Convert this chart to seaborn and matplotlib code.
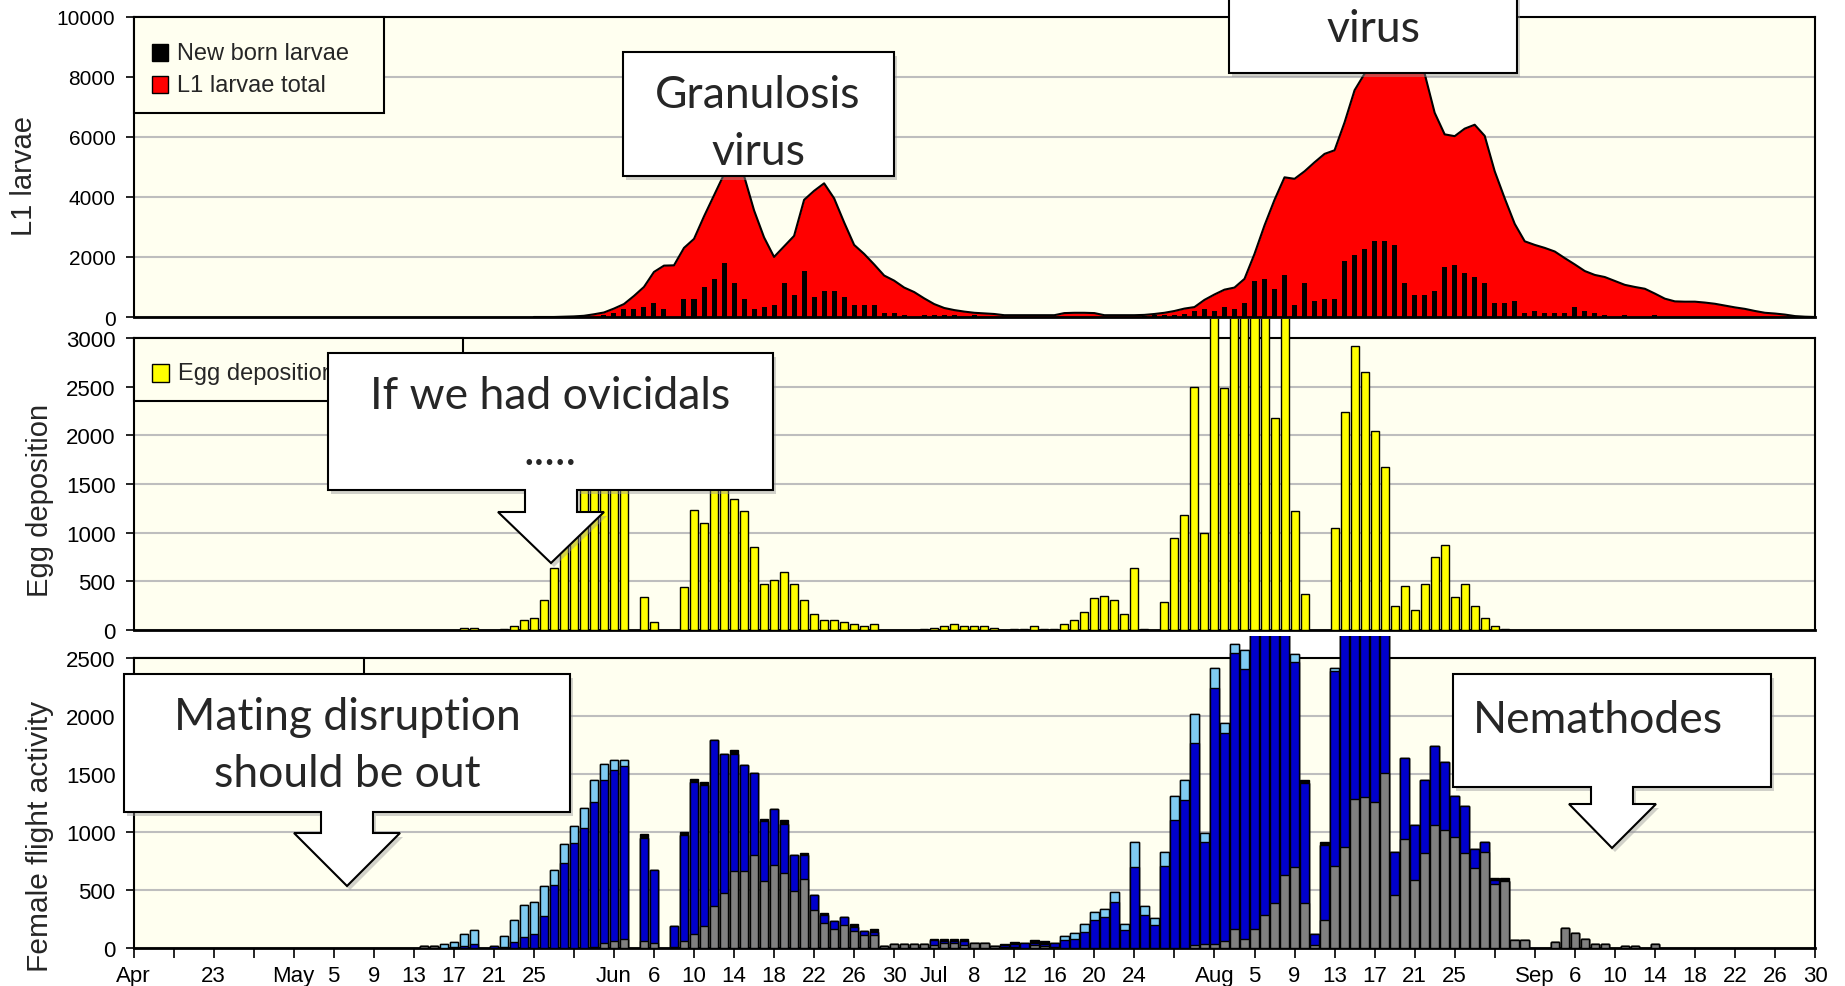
"""
Codling moth season 2009: L1 larvae, egg deposition and female flight
=====================================================================
Three stacked panels sharing a daily axis from 15 April (day 0) to 30 September (day 168).
"""

import numpy as np
import pandas as pd
import matplotlib
matplotlib.use('Agg')
import matplotlib.pyplot as plt
import seaborn as sns
from matplotlib import font_manager
from matplotlib.patches import Polygon, Rectangle
from matplotlib.transforms import Bbox, TransformedBbox

# -- Axis labels (day 0 = 15 April, ticks every 4 days) --
TICK_DAYS = list(range(0, 169, 4))
TICK_LABELS = ['Apr', '', '23', '', 'May', '5', '9', '13', '17', '21', '25', '',
               'Jun', '6', '10', '14', '18', '22', '26', '30', 'Jul', '8', '12', '16',
               '20', '24', '', 'Aug', '5', '9', '13', '17', '21', '25', '', 'Sep',
               '6', '10', '14', '18', '22', '26', '30']

# -- L1 larvae total (area), from day 40 --
LARVAE_FIRST = 40
LARVAE_TOTAL = [0, 0, 0, 10, 20, 40, 90, 150, 280, 430,
                700, 1000, 1500, 1710, 1720, 2300, 2600, 3350, 4050, 4750,
                5000, 4700, 3550, 2650, 2000, 2350, 2700, 3900, 4200, 4450,
                3950, 3150, 2400, 2100, 1750, 1380, 1210, 980, 830, 620,
                430, 300, 230, 180, 140, 120, 100, 60, 60, 60,
                60, 60, 60, 130, 140, 140, 130, 60, 60, 60,
                60, 70, 100, 140, 200, 280, 330, 570, 750, 910,
                980, 1270, 2100, 3050, 3900, 4650, 4600, 4850, 5150, 5430,
                5550, 6480, 7550, 8100, 8800, 9300, 9500, 9300, 8800, 8100,
                6800, 6080, 6020, 6270, 6400, 6030, 4850, 3950, 3100, 2520,
                2400, 2300, 2180, 1960, 1750, 1530, 1400, 1330, 1200, 1070,
                1000, 940, 780, 610, 520, 510, 510, 480, 440, 380,
                320, 270, 200, 140, 115, 80, 30, 10, 0]

# -- New born larvae (black bars), from day 47 --
NEWBORN_FIRST = 47
NEWBORN = [60, 133, 267, 267, 333, 467, 267, 0, 600, 600,
           1011, 1267, 1800, 1133, 600, 267, 333, 400, 1133, 733,
           1533, 667, 867, 867, 667, 400, 400, 400, 133, 133,
           67, 0, 67, 67, 67, 67, 0, 67, 0, 0,
           0, 0, 0, 0, 0, 0, 0, 0, 0, 0,
           0, 0, 0, 0, 30, 60, 60, 67, 100, 211,
           267, 189, 322, 267, 467, 1189, 1267, 933, 1400, 411,
           1133, 544, 600, 600, 1856, 2067, 2267, 2533, 2533, 2400,
           1133, 744, 744, 856, 1667, 1733, 1467, 1333, 1133, 467,
           467, 533, 133, 189, 133, 133, 133, 333, 200, 133,
           67, 0, 67, 0, 0, 67]

# -- Egg deposition (yellow bars), from day 33 --
EGG_FIRST = 33
EGGS = [20, 20, 0, 0, 7, 41, 100, 127, 306, 636,
        1000, 1200, 1450, 1700, 1900, 2000, 2100, 0, 334, 83,
        0, 0, 437, 1238, 1100, 1700, 1500, 1342, 1218, 850,
        471, 513, 599, 471, 306, 162, 100, 100, 86, 58,
        41, 65, 0, 0, 0, 0, 14, 24, 41, 59,
        41, 41, 41, 17, 0, 14, 14, 41, 14, 14,
        59, 100, 183, 328, 345, 307, 162, 638, 14, 0,
        290, 948, 1179, 2500, 996, 3600, 2483, 3800, 4100, 4000,
        3700, 2179, 3300, 1221, 369, 0, 0, 1052, 2238, 2921,
        2655, 2048, 1679, 248, 455, 207, 472, 748, 869, 334,
        472, 248, 121, 41, 14]

# -- Female flight activity, stacked segments --
GREY_FIRST = 29
FLIGHT_GREY = [14, 14, 0, 0, 0, 0, 0, 0, 0, 0,
               0, 0, 0, 0, 0, 0, 0, 5, 46, 60,
               80, 0, 60, 46, 0, 5, 60, 118, 187, 359,
               474, 664, 664, 799, 578, 713, 647, 489, 598, 330,
               216, 161, 201, 144, 115, 109, 14, 34, 34, 34,
               34, 29, 40, 40, 23, 46, 46, 20, 10, 5,
               0, 23, 15, 10, 0, 0, 0, 0, 0, 0,
               0, 0, 0, 0, 0, 0, 0, 23, 37, 37,
               60, 167, 80, 167, 287, 391, 632, 698, 391, 29,
               239, 704, 871, 1288, 1302, 1259, 1512, 460, 943, 583,
               822, 1063, 1015, 957, 822, 690, 828, 555, 580, 66,
               66, 0, 0, 52, 172, 129, 80, 37, 37, 0,
               17, 17, 0, 37]

BLUE_FIRST = 32
FLIGHT_BLUE = [10, 15, 37, 0, 14, 10, 52,
               95, 124, 276, 546, 736, 905, 1035, 1254, 1400, 1472,
               1486, 0, 891, 624, 0, 182, 911, 1313, 1216, 1431,
               1196, 1011, 917, 713, 514, 488, 425, 316, 201, 130,
               66, 75, 66, 37, 29, 29, 0, 0, 0, 0,
               0, 37, 17, 17, 34, 0, 0, 0, 20, 32,
               40, 23, 22, 36, 66, 80, 138, 239, 267, 397,
               152, 698, 287, 201, 704, 1101, 1273, 1747, 877, 2205,
               1797, 2373, 2328, 2800, 2700, 2600, 2400, 1768, 1035, 95,
               652, 1681, 2200, 1800, 1800, 1800, 1500, 368, 695, 480,
               624, 679, 589, 351, 402, 166, 86, 28]

LIGHT_FIRST = 31
FLIGHT_LIGHT = [37, 42, 109, 115, 0, 0, 93, 187, 273, 273,
                259, 124, 164, 147, 172, 187, 143, 86, 52, 0] + [0] * 40 + \
               [0, 0, 37, 52, 66, 71, 72, 86, 52, 216,
                75, 58, 124, 207, 173, 245, 80, 172, 86, 80,
                158, 0, 0, 0, 0, 72, 0, 0, 0, 29]

BLACK_FIRST = 51
FLIGHT_BLACK = [29, 0, 0, 0, 29, 29, 28, 0, 0, 29,
                0, 0, 23, 0, 29, 0, 23, 0, 23, 0,
                0, 23, 0, 29, 0, 0, 0, 0, 0, 14,
                23, 23, 23, 0, 0, 0, 7, 15, 6, 20,
                20] + [0] * 25 + \
               [25, 0, 23] + [0] * 16 + [21, 24]

RED = '#FF0000'
YELLOW = '#FFFF00'
GREY = '#808080'
BLUE = '#0000CC'
LIGHT = '#7FCBF2'
PLOT_BG = '#FFFFF0'
GRID = '#BEBEBE'

W, H = 1845, 987
N_DAYS = 169


def fx(x):
    return x / W


def fy(y):
    return 1 - y / H


def full(first, values):
    out = np.zeros(N_DAYS)
    out[first:first + len(values)] = values
    return out


def draw_bars(ax, heights, color, width, edge='black', lw=1.0):
    days = np.arange(N_DAYS)
    keep = heights > 0
    df = pd.DataFrame({'day': days[keep], 'value': heights[keep]})
    sns.barplot(data=df, x='day', y='value', native_scale=True, orient='x',
                color=color, saturation=1, width=width, edgecolor=edge,
                linewidth=lw, errorbar=None, ax=ax, zorder=3)


sns.set_theme(style='white')
plt.rcParams['font.family'] = ['Liberation Sans', 'DejaVu Sans']
names = {f.name for f in font_manager.fontManager.ttflist}
NARROW = 'Liberation Sans Narrow' if 'Liberation Sans Narrow' in names else 'Liberation Sans'
CALLOUT_FONT = 'Lato' if 'Lato' in names else 'DejaVu Sans'

fig = plt.figure(figsize=(W / 100, H / 100), dpi=100)
fig.patch.set_facecolor('white')


def add_panel(top, bottom):
    return fig.add_axes([fx(133.5), fy(bottom), fx(1815) - fx(133.5), (bottom - top) / H])


ax1 = add_panel(17.6, 318)
ax2 = add_panel(339, 631)
ax3 = add_panel(659, 949)

# 1. L1 larvae
larvae_days = np.arange(LARVAE_FIRST, LARVAE_FIRST + len(LARVAE_TOTAL))
ax1.fill_between(larvae_days, LARVAE_TOTAL, color=RED, linewidth=0, zorder=2)
sns.lineplot(x=larvae_days, y=LARVAE_TOTAL, color='black', linewidth=1.5, ax=ax1, zorder=2.5)
draw_bars(ax1, full(NEWBORN_FIRST, NEWBORN), 'black', 0.5, edge='none', lw=0)

# 2. Egg deposition
draw_bars(ax2, full(EGG_FIRST, EGGS), YELLOW, 0.8)

# 3. Female flight, stacked by drawing cumulative layers from the top down
grey = full(GREY_FIRST, FLIGHT_GREY)
blue = full(BLUE_FIRST, FLIGHT_BLUE)
light = full(LIGHT_FIRST, FLIGHT_LIGHT)
black = full(BLACK_FIRST, FLIGHT_BLACK)
draw_bars(ax3, grey + blue + light + black, 'black', 0.85)
draw_bars(ax3, grey + blue + light, LIGHT, 0.85)
draw_bars(ax3, grey + blue, BLUE, 0.85)
draw_bars(ax3, grey, GREY, 0.85)

# bars that run off the top are cut at the panel above, as in the original sheet
for ax, top, bottom in ((ax2, 319.5, 631), (ax3, 637, 949)):
    clip = TransformedBbox(Bbox.from_extents(fx(133.5), fy(bottom), fx(1815), fy(top)),
                           fig.transFigure)
    for p in ax.patches:
        p.set_clip_box(clip)

for ax, ymax, step in ((ax1, 10000, 2000), (ax2, 3000, 500), (ax3, 2500, 500)):
    ax.set_facecolor(PLOT_BG)
    ax.set_axisbelow(True)
    ax.set_xlim(0, 168)
    ax.set_ylim(0, ymax)
    ax.set_yticks(range(0, ymax + 1, step))
    ax.yaxis.grid(True, color=GRID, linewidth=1.5)
    ax.xaxis.grid(False)
    ax.set_xlabel('')
    ax.set_ylabel('')
    for s in ax.spines.values():
        s.set_visible(True)
        s.set_color('black')
        s.set_linewidth(1.5)
    ax.tick_params(axis='y', left=True, direction='out', length=6, width=1.2,
                   pad=7, labelsize=15, colors='black')
    ax.spines['bottom'].set_linewidth(2)

for ax in (ax2, ax3):
    for lab in ax.get_yticklabels():
        lab.set_family(NARROW)
        lab.set_fontsize(16)

ax1.tick_params(axis='x', bottom=False, labelbottom=False)
ax2.tick_params(axis='x', bottom=False, labelbottom=False)
ax3.set_xticks(TICK_DAYS, TICK_LABELS)
ax3.tick_params(axis='x', bottom=True, direction='out', length=7, width=1.2, pad=5,
                labelsize=16, colors='black')
for lab in ax3.get_xticklabels():
    lab.set_family(NARROW)

# -- Axis titles --
fig.text(fx(24), fy(176), 'L1 larvae', rotation=90, ha='center', va='center', fontsize=21)
fig.text(fx(40), fy(500), 'Egg deposition', rotation=90, ha='center', va='center', fontsize=21)
fig.text(fx(40), fy(836), 'Female flight activity', rotation=90, ha='center', va='center',
         fontsize=21.5)


# -- Legends (boxes drawn in pixel positions of the original) --
def rect(x0, y0, x1, y1, fc, ec='black', lw=1.5, z=5):
    fig.add_artist(Rectangle((fx(x0), fy(y1)), fx(x1) - fx(x0), fy(y0) - fy(y1),
                             transform=fig.transFigure, facecolor=fc, edgecolor=ec,
                             linewidth=lw, zorder=z))


rect(133.5, 17.6, 384, 114, PLOT_BG)
rect(152, 45, 168, 62, 'black', lw=1, z=6)
rect(152, 77, 168, 94, RED, lw=1, z=6)
fig.text(fx(177), fy(54), 'New born larvae', va='center', fontsize=17, zorder=6)
fig.text(fx(177), fy(86), 'L1 larvae total', va='center', fontsize=17, zorder=6)

rect(133.5, 339, 463, 402, PLOT_BG)
rect(152, 365, 169, 383, YELLOW, lw=1, z=6)
fig.text(fx(178), fy(374), 'Egg deposition', va='center', fontsize=17, zorder=6)

rect(133.5, 659, 364, 720, PLOT_BG)


# -- Callouts --
def callout(box, lines, cx, baselines, stem=None, head=None, tip=None, size=32):
    x0, y0, x1, y1 = box
    pts = [(x0, y0), (x1, y0), (x1, y1)]
    if stem:
        sx0, sx1, sy = stem
        hx0, hx1 = head
        tx, ty = tip
        pts += [(sx1, y1), (sx1, sy), (hx1, sy), (tx, ty), (hx0, sy), (sx0, sy), (sx0, y1)]
    pts += [(x0, y1)]
    shadow = Polygon([(fx(x + 3), fy(y + 4)) for x, y in pts], closed=True,
                     transform=fig.transFigure, facecolor='#9A9A9A', edgecolor='none',
                     alpha=0.45, zorder=9)
    shape = Polygon([(fx(x), fy(y)) for x, y in pts], closed=True,
                    transform=fig.transFigure, facecolor='white', edgecolor='black',
                    linewidth=1.5, zorder=10)
    fig.add_artist(shadow)
    fig.add_artist(shape)
    for text, base in zip(lines, baselines):
        fig.text(fx(cx), fy(base), text, ha='center', va='baseline', fontsize=size,
                 family=CALLOUT_FONT, zorder=11)


callout((623, 53, 894, 177), ['Granulosis', 'virus'], 758, [108, 165])
# second box sits above the top of the picture; only its last line shows
callout((1229, -60, 1517, 74), ['virus'], 1373, [42])
callout((328, 354, 773, 491), ['If we had ovicidals', '.....'], 550, [409, 465],
        stem=(525, 577, 513), head=(498, 604), tip=(551, 564))
callout((124, 675, 570, 813), ['Mating disruption', 'should be out'], 347, [730, 787],
        stem=(321, 373, 834), head=(294, 400), tip=(347, 887))
callout((1453, 675, 1771, 788), ['Nemathodes'], 1598, [733],
        stem=(1591, 1633, 805), head=(1569, 1656), tip=(1612, 849))

fig.savefig('out.png', dpi=100, facecolor='white')
plt.close(fig)
